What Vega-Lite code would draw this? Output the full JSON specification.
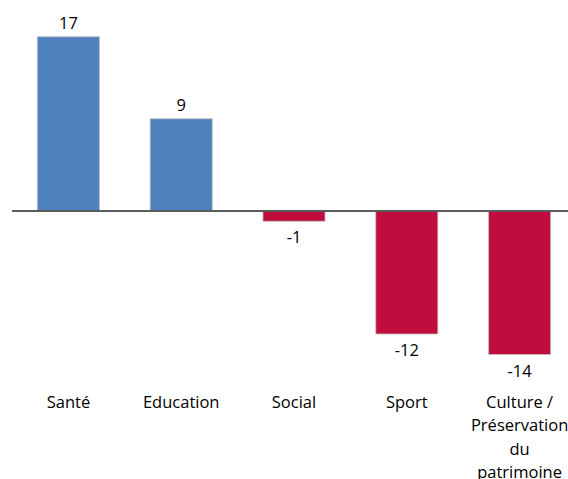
{
  "$schema": "https://vega.github.io/schema/vega-lite/v6.json",
  "autosize": "none",
  "padding": {"left": 12, "top": 6, "right": 0, "bottom": 104},
  "width": 564,
  "height": 369,
  "background": "white",
  "config": {"view": {"stroke": null}, "font": "Open Sans"},
  "data": {
    "values": [
      {"domaine": "Santé", "valeur": 17},
      {"domaine": "Education", "valeur": 9},
      {"domaine": "Social", "valeur": -1},
      {"domaine": "Sport", "valeur": -12},
      {"domaine": "Culture / Préservation du patrimoine", "valeur": -14}
    ]
  },
  "encoding": {
    "x": {
      "field": "domaine",
      "type": "nominal",
      "sort": null,
      "scale": {"paddingInner": 0.45, "paddingOuter": 0.225},
      "axis": {
        "title": null,
        "domain": false,
        "ticks": false,
        "labelAngle": 0,
        "labelFontSize": 16.5,
        "labelColor": "#000000",
        "labelPadding": 19,
        "labelBaseline": "top",
        "labelLineHeight": 23.5,
        "labelLimit": 400,
        "labelOverlap": false,
        "labelBound": false,
        "labelFlush": false,
        "labelExpr": "datum.value == 'Culture / Préservation du patrimoine' ? ['Culture /', 'Préservation', 'du', 'patrimoine'] : datum.value"
      }
    }
  },
  "layer": [
    {
      "mark": {"type": "bar", "stroke": "#BFBFBF", "strokeWidth": 0.8},
      "encoding": {
        "y": {
          "field": "valeur",
          "type": "quantitative",
          "scale": {"domain": [-16, 20], "nice": false},
          "axis": null
        },
        "color": {
          "condition": {"test": "datum.valeur >= 0", "value": "#4F81BD"},
          "value": "#C00D3E"
        }
      }
    },
    {
      "mark": {"type": "rule", "color": "#595959", "strokeWidth": 1.2},
      "encoding": {"y": {"datum": 0, "type": "quantitative"}, "x": {"value": 0}, "x2": {"value": 564}}
    },
    {
      "transform": [{"filter": "datum.valeur >= 0"}],
      "mark": {"type": "text", "baseline": "bottom", "dy": -5, "fontSize": 16.5, "color": "#000000"},
      "encoding": {
        "y": {"field": "valeur", "type": "quantitative"},
        "text": {"field": "valeur", "type": "nominal"}
      }
    },
    {
      "transform": [{"filter": "datum.valeur < 0"}],
      "mark": {"type": "text", "baseline": "top", "dy": 9, "fontSize": 16.5, "color": "#000000"},
      "encoding": {
        "y": {"field": "valeur", "type": "quantitative"},
        "text": {"field": "valeur", "type": "nominal"}
      }
    }
  ]
}
